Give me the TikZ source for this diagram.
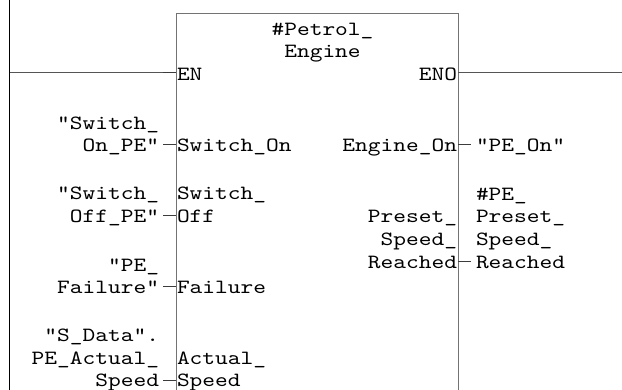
\documentclass[tikz,border=0pt]{standalone}
\usepackage{fontspec}
\newfontfamily\plcmono{lmmono10-regular.otf}[FakeStretch=1.2]
\definecolor{blockgray}{RGB}{115,115,115}
\definecolor{wiregray}{RGB}{85,85,85}
\definecolor{stubgray}{RGB}{60,60,60}
\begin{document}
\begin{tikzpicture}[x=1pt,y=-1pt,
  every node/.style={font=\plcmono\fontsize{20.2}{22.75}\selectfont,inner sep=0pt,outer sep=0pt,text=black},
  leftlbl/.style={anchor=base east,align=right},
  rightlbl/.style={anchor=base west,align=left},
  blockbox/.style={draw=blockgray,line width=1pt,anchor=north west,minimum width=282pt,minimum height=400pt},
  rail/.style={draw=black,line width=1.2pt},
  wire/.style={draw=wiregray,line width=1pt},
  stub/.style={draw=stubgray,line width=1pt}]
\useasboundingbox (0,0) rectangle (622,390);
\clip (0,0) rectangle (622,390);
% block
\node[blockbox] (fb) at (176,14) {};
\node[anchor=base,align=center] (title) at (322.5,58) {\#Petrol\_\\Engine};
% rail
\coordinate (railtop) at (9.5,0);
\coordinate (railbot) at (9.5,390);
\draw[rail] (railtop) -- (railbot);
% EN / ENO
\coordinate (enrail) at (9.5,73);
\coordinate (enstub) at (163,73);
\coordinate (enoend) at (622,73);
\draw[wire] (enrail) -- (enstub);
\draw[stub] (enstub) -- (enstub -| fb.west);
\draw[wire] (enoend -| fb.east) -- (enoend);
% inner pin labels
\node[rightlbl] (pEN) at (177,80.5) {EN};
\node[rightlbl] (pSon) at (177,152) {Switch\_On};
\node[rightlbl] (pSoff) at (177,222.5) {Switch\_\\Off};
\node[rightlbl] (pFail) at (177,294) {Failure};
\node[rightlbl] (pAct) at (177,387) {Actual\_\\Speed};
\node[leftlbl] (pENO) at (457,80.5) {ENO};
\node[leftlbl] (pEon) at (457,152) {Engine\_On};
\node[leftlbl] (pPre) at (457,268.5) {Preset\_\\Speed\_\\Reached};
% outer operands
\node[leftlbl] (oSon) at (159,152) {"Switch\_\\On\_PE"};
\node[leftlbl] (oSoff) at (159,222.5) {"Switch\_\\Off\_PE"};
\node[leftlbl] (oFail) at (159,294) {"PE\_\\Failure"};
\node[leftlbl] (oAct) at (159,387) {"S\_Data".\\PE\_Actual\_\\Speed};
\node[rightlbl] (oEon) at (476,152) {"PE\_On"};
\node[rightlbl] (oPre) at (476,268.5) {\#PE\_\\Preset\_\\Speed\_\\Reached};
% input stubs
\coordinate (i1) at (163,145);
\coordinate (i2) at (163,215.5);
\coordinate (i3) at (163,287);
\coordinate (i4) at (163,380.5);
\draw[stub] (i1) -- (i1 -| fb.west);
\draw[stub] (i2) -- (i2 -| fb.west);
\draw[stub] (i3) -- (i3 -| fb.west);
\draw[stub] (i4) -- (i4 -| fb.west);
% output stubs
\coordinate (q1) at (471,145);
\coordinate (q2) at (471,261.5);
\draw[stub] (q1 -| fb.east) -- (q1);
\draw[stub] (q2 -| fb.east) -- (q2);
\end{tikzpicture}
\end{document}
